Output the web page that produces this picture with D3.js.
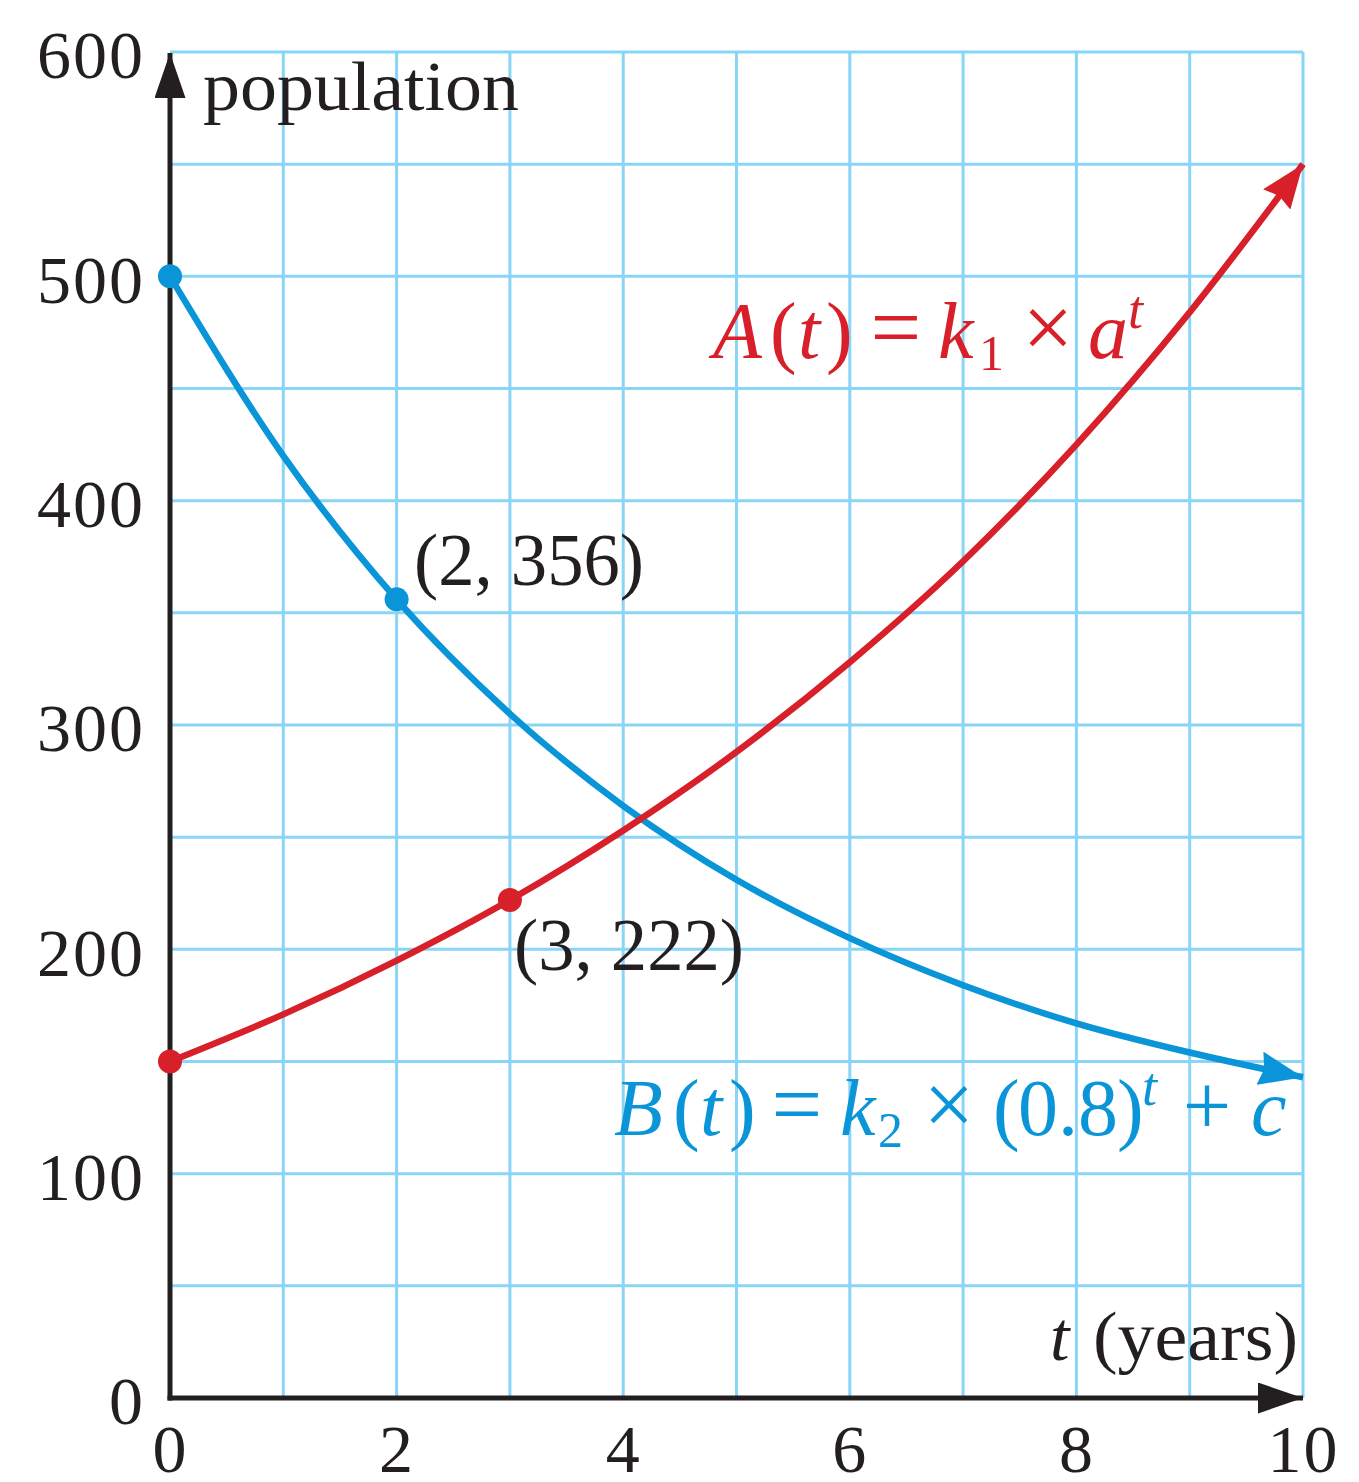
<!DOCTYPE html>
<html>
<head>
<meta charset="utf-8">
<script src="https://cdn.jsdelivr.net/npm/d3@7"></script>
<style>
  html, body { margin: 0; padding: 0; background: #fff; }
  svg { display: block; }
  text { font-family: "Liberation Serif", "Times New Roman", serif; }
</style>
</head>
<body>
<svg id="chart" width="1359" height="1482"></svg>
<script>
// Population values read at whole years t = 0 … 10
const years = [0, 1, 2, 3, 4, 5, 6, 7, 8, 9, 10];
const popA = [150, 171, 195, 222, 253, 288, 328, 373, 425, 484, 550];
const popB = [500, 420, 356, 305, 264, 231, 205, 184, 167, 154, 143];

// Highlighted points
const markedA = [{ t: 0, v: 150 }, { t: 3, v: 222, label: "(3, 222)" }];
const markedB = [{ t: 0, v: 500 }, { t: 2, v: 356, label: "(2, 356)" }];

// Axis ticks
const xTicks = [0, 2, 4, 6, 8, 10];
const yTicks = [0, 100, 200, 300, 400, 500, 600];
const xGrid = [1, 2, 3, 4, 5, 6, 7, 8, 9, 10];
const yGrid = [50, 100, 150, 200, 250, 300, 350, 400, 450, 500, 550, 600];

const RED = "#d7202a";
const BLUE = "#0a95d8";
const GRID = "#88d5f6";
const INK = "#231f20";

const svg = d3.select("#chart");
const x = d3.scaleLinear().domain([0, 10]).range([170, 1303]);
const y = d3.scaleLinear().domain([0, 600]).range([1398, 52]);

// Grid
const grid = svg.append("g").attr("stroke", GRID).attr("stroke-width", 3);
grid.selectAll("line.v").data(xGrid).join("line")
  .attr("x1", d => x(d)).attr("x2", d => x(d))
  .attr("y1", y(600)).attr("y2", y(0));
grid.selectAll("line.h").data(yGrid).join("line")
  .attr("x1", x(0)).attr("x2", x(10))
  .attr("y1", d => y(d)).attr("y2", d => y(d));

// Arrow markers (notch = fraction of length cut into the back edge)
const defs = svg.append("defs");
function arrow(id, color, len, wid, notch) {
  defs.append("marker")
    .attr("id", id)
    .attr("markerUnits", "userSpaceOnUse")
    .attr("viewBox", `0 ${-wid / 2} ${len} ${wid}`)
    .attr("refX", len).attr("refY", 0)
    .attr("markerWidth", len).attr("markerHeight", wid)
    .attr("orient", "auto")
    .append("path")
    .attr("d", `M0,${-wid / 2} L${len},0 L0,${wid / 2} L${len * notch},0 Z`)
    .attr("fill", color);
}
arrow("arrA", RED, 44, 34, 0.1);
arrow("arrB", BLUE, 44, 34, 0.1);
arrow("arrK", INK, 45, 31, 0);

// Axis tick labels
const fontSize = 68;
const xAxis = svg.append("g")
  .attr("transform", `translate(0,${y(0)})`)
  .call(d3.axisBottom(x).tickValues(xTicks).tickSize(0).tickPadding(0).tickFormat(d3.format("d")));
xAxis.select(".domain").remove();
xAxis.selectAll("text")
  .attr("dy", null).attr("y", 74)
  .attr("font-size", fontSize).attr("font-family", "Liberation Serif")
  .attr("letter-spacing", 2)
  .attr("fill", INK);

const yAxis = svg.append("g")
  .attr("transform", `translate(${x(0)},0)`)
  .call(d3.axisLeft(y).tickValues(yTicks).tickSize(0).tickPadding(0).tickFormat(d3.format("d")));
yAxis.select(".domain").remove();
yAxis.selectAll("text")
  .attr("x", -25).attr("dy", "0.38em")
  .attr("font-size", fontSize).attr("font-family", "Liberation Serif")
  .attr("letter-spacing", 2)
  .attr("fill", INK);

// Axis lines with arrowheads
svg.append("line")
  .attr("x1", x(0)).attr("y1", y(0) + 2.5).attr("x2", x(0)).attr("y2", y(600) + 1)
  .attr("stroke", INK).attr("stroke-width", 5)
  .attr("marker-end", "url(#arrK)");
svg.append("line")
  .attr("x1", x(0) - 2.5).attr("y1", y(0)).attr("x2", x(10)).attr("y2", y(0))
  .attr("stroke", INK).attr("stroke-width", 5)
  .attr("marker-end", "url(#arrK)");

// Curves
const line = d3.line()
  .x((d, i) => x(years[i]))
  .y(d => y(d))
  .curve(d3.curveMonotoneX);

svg.append("path")
  .attr("d", line(popB))
  .attr("fill", "none").attr("stroke", BLUE).attr("stroke-width", 6.5)
  .attr("marker-end", "url(#arrB)");
svg.append("path")
  .attr("d", line(popA))
  .attr("fill", "none").attr("stroke", RED).attr("stroke-width", 6.5)
  .attr("marker-end", "url(#arrA)");

// Marked points
svg.selectAll("circle.a").data(markedA).join("circle")
  .attr("cx", d => x(d.t)).attr("cy", d => y(d.v)).attr("r", 12).attr("fill", RED);
svg.selectAll("circle.b").data(markedB).join("circle")
  .attr("cx", d => x(d.t)).attr("cy", d => y(d.v)).attr("r", 12).attr("fill", BLUE);

// Point labels
svg.append("text").attr("x", 414).attr("y", 585)
  .attr("font-size", 73).attr("fill", INK)
  .attr("textLength", 230).attr("lengthAdjust", "spacingAndGlyphs")
  .text(markedB[1].label);
svg.append("text").attr("x", 514).attr("y", 970)
  .attr("font-size", 73).attr("fill", INK)
  .attr("textLength", 230).attr("lengthAdjust", "spacingAndGlyphs")
  .text(markedA[1].label);

// Axis titles
svg.append("text").attr("x", 203).attr("y", 110)
  .attr("font-size", 70).attr("fill", INK)
  .attr("textLength", 316).attr("lengthAdjust", "spacingAndGlyphs")
  .text("population");
const tl = svg.append("text").attr("y", 1360)
  .attr("font-size", 70).attr("fill", INK);
tl.append("tspan").attr("x", 1050).attr("font-style", "italic").text("t");
tl.append("tspan").attr("x", 1093)
  .attr("textLength", 205).attr("lengthAdjust", "spacingAndGlyphs").text("(years)");

// Math labels: each piece is placed at its own x; "op" pieces are centred
const mathSize = 80;
function mathLabel(color, baseline, pieces) {
  const t = svg.append("text").attr("font-size", mathSize).attr("fill", color);
  pieces.forEach(p => {
    const s = t.append("tspan")
      .attr("x", p.x)
      .attr("y", baseline + (p.shift || 0))
      .text(p.s);
    if (p.it) s.attr("font-style", "italic");
    if (p.size) s.attr("font-size", p.size);
    if (p.op) s.attr("text-anchor", "middle");
  });
}

mathLabel(RED, 358, [
  { s: "A", x: 713, it: true },
  { s: "(", x: 770 },
  { s: "t", x: 798, it: true },
  { s: ")", x: 826 },
  { s: "=", x: 896, op: true, size: 90 },
  { s: "k", x: 938, it: true },
  { s: "1", x: 979, size: 50, shift: 12 },
  { s: "×", x: 1048, op: true, size: 90 },
  { s: "a", x: 1088, it: true },
  { s: "t", x: 1128, it: true, size: 54, shift: -30 }
]);

mathLabel(BLUE, 1135, [
  { s: "B", x: 614, it: true },
  { s: "(", x: 673 },
  { s: "t", x: 700, it: true },
  { s: ")", x: 729 },
  { s: "=", x: 797, op: true, size: 90 },
  { s: "k", x: 840, it: true },
  { s: "2", x: 878, size: 50, shift: 12 },
  { s: "×", x: 949, op: true, size: 90 },
  { s: "(", x: 993 },
  { s: "0.8", x: 1018 },
  { s: ")", x: 1117 },
  { s: "t", x: 1142, it: true, size: 54, shift: -30 },
  { s: "+", x: 1207, op: true, size: 86 },
  { s: "c", x: 1251, it: true }
]);
</script>
</body>
</html>
